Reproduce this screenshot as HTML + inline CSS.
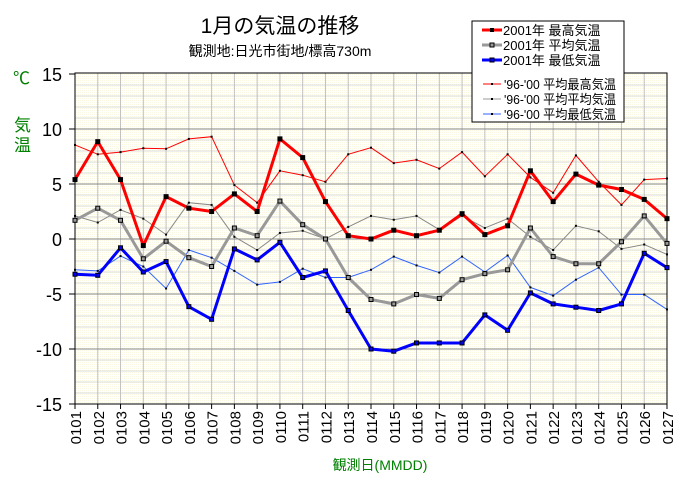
<!DOCTYPE html>
<html><head><meta charset="utf-8"><style>
body{margin:0;background:#fff}
svg text{font-family:"Liberation Sans","Noto Sans CJK JP",sans-serif}
</style></head><body>
<svg width="691" height="481" viewBox="0 0 691 481" xmlns="http://www.w3.org/2000/svg">
<defs>
<pattern id="dots" width="2" height="2" patternUnits="userSpaceOnUse"><rect width="2" height="2" fill="#fffffc"/><rect width="1" height="1" fill="#faf8e2"/></pattern>
</defs>
<rect x="75" y="73" width="592" height="331" fill="url(#dots)"/>
<g id="grid"></g>
<rect x="75" y="73" width="592" height="331" fill="none" stroke="#000" stroke-width="1"/>
<g id="axes"></g>
<g id="series"></g>
<text x="280" y="33" font-size="21" text-anchor="middle">1月の気温の推移</text>
<text x="280" y="56" font-size="14" text-anchor="middle" font-family="'Liberation Serif','Noto Serif CJK SC',serif">観測地:日光市街地/標高730m</text>
<text x="13" y="84" font-size="17" fill="#008000">℃</text>
<text x="14" y="131" font-size="17" fill="#008000">気</text>
<text x="14" y="151" font-size="17" fill="#008000">温</text>
<text x="380" y="470" font-size="14" text-anchor="middle" fill="#008000">観測日(MMDD)</text>
<g>
<rect x="472" y="21" width="152" height="101" fill="#fff" stroke="#000"/>
<line x1="482" y1="30" x2="502" y2="30" stroke="#f00" stroke-width="3"/><rect x="490" y="28" width="4" height="4" fill="#000"/>
<line x1="482" y1="45" x2="502" y2="45" stroke="#999" stroke-width="3"/><rect x="490" y="43" width="4" height="4" fill="#999" stroke="#000"/>
<line x1="482" y1="60" x2="502" y2="60" stroke="#00f" stroke-width="3"/><rect x="490" y="58" width="4" height="4" fill="#00f" stroke="#000"/>
<text x="503" y="35" font-size="13">2001年 最高気温</text>
<text x="503" y="50" font-size="13">2001年 平均気温</text>
<text x="503" y="65" font-size="13">2001年 最低気温</text>
<line x1="483" y1="84" x2="501" y2="84" stroke="#f00"/><rect x="491" y="83" width="2" height="2"/>
<line x1="483" y1="99" x2="501" y2="99" stroke="#999"/><rect x="491" y="98" width="2" height="2"/>
<line x1="483" y1="114" x2="501" y2="114" stroke="#36f"/><rect x="491" y="113" width="2" height="2"/>
<text x="504" y="89" font-size="13" textLength="112" lengthAdjust="spacingAndGlyphs">'96-'00 平均最高気温</text>
<text x="504" y="104" font-size="13" textLength="112" lengthAdjust="spacingAndGlyphs">'96-'00 平均平均気温</text>
<text x="504" y="119" font-size="13" textLength="112" lengthAdjust="spacingAndGlyphs">'96-'00 平均最低気温</text>
</g>
</svg>
<script>
const NS="http://www.w3.org/2000/svg";
function el(p,t,a){const e=document.createElementNS(NS,t);for(const k in a)e.setAttribute(k,a[k]);p.appendChild(e);return e;}
const X=i=>75+i*592/26, Y=v=>239-11*v;
const g=document.getElementById('grid'),ax=document.getElementById('axes'),s=document.getElementById('series');
for(let v=-15;v<=15;v++){if(v%5)el(g,'line',{x1:75,x2:667,y1:Y(v),y2:Y(v),stroke:'#dcdcdc'});}
for(let i=1;i<26;i++)el(g,'line',{x1:X(i),x2:X(i),y1:73,y2:404,stroke:'#c0c0c0'});
for(let v=-10;v<=10;v+=5)el(g,'line',{x1:75,x2:667,y1:Y(v),y2:Y(v),stroke:'#888'});
for(let v=-15;v<=15;v+=5){el(ax,'line',{x1:69,x2:75,y1:Y(v),y2:Y(v),stroke:'#000'});
 const t=el(ax,'text',{x:62,y:Y(v)+7,'font-size':18,'text-anchor':'end'});t.textContent=v;}
for(let i=0;i<27;i++){el(ax,'line',{x1:X(i),x2:X(i),y1:404,y2:409,stroke:'#000'});
 const t=el(ax,'text',{x:0,y:0,'font-size':15,'text-anchor':'end',transform:`translate(${X(i)+6},411) rotate(-90)`});t.textContent='01'+String(i+1).padStart(2,'0');}
const mx=[5.4,8.85,5.4,-0.6,3.85,2.8,2.5,4.1,2.5,9.1,7.4,3.4,0.3,0.0,0.8,0.3,0.8,2.3,0.4,1.2,6.2,3.4,5.9,4.9,4.5,3.6,1.85];
const av=[1.7,2.8,1.7,-1.8,-0.2,-1.7,-2.5,1.0,0.3,3.45,1.3,0,-3.5,-5.5,-5.9,-5.05,-5.4,-3.7,-3.15,-2.8,1.0,-1.6,-2.25,-2.25,-0.25,2.1,-0.4];
const mn=[-3.2,-3.3,-0.8,-3.0,-2.05,-6.15,-7.3,-0.9,-1.9,-0.3,-3.5,-2.9,-6.5,-10.0,-10.2,-9.45,-9.45,-9.45,-6.9,-8.3,-4.9,-5.9,-6.2,-6.5,-5.9,-1.3,-2.6];
const amx=[8.55,7.7,7.9,8.25,8.2,9.1,9.3,4.9,3.3,6.2,5.8,5.2,7.7,8.3,6.9,7.2,6.4,7.9,5.7,7.7,5.6,4.2,7.6,5.2,3.1,5.4,5.5];
const aav=[2.1,1.5,2.65,1.85,0.4,3.3,3.1,0.2,-1.0,0.55,0.75,0,1.1,2.1,1.75,2.1,0.85,2.1,1.0,1.85,0.2,-1.0,1.2,0.7,-0.9,-0.5,-1.4];
const amn=[-2.8,-2.9,-1.55,-2.5,-4.5,-1.0,-1.7,-2.9,-4.15,-3.9,-2.7,-3.5,-3.5,-2.8,-1.6,-2.4,-3.05,-1.6,-3.0,-1.5,-4.4,-5.15,-3.7,-2.6,-5.05,-5.05,-6.4];
function thin(d,c){el(s,'polyline',{points:d.map((v,i)=>X(i)+','+Y(v)).join(' '),fill:'none',stroke:c,'stroke-width':1});
 d.forEach((v,i)=>el(s,'rect',{x:X(i)-1,y:Y(v)-1,width:2,height:2,fill:'#000'}));}
function thick(d,c,f){el(s,'polyline',{points:d.map((v,i)=>X(i)+','+Y(v)).join(' '),fill:'none',stroke:c,'stroke-width':3,'stroke-linejoin':'round'});
 d.forEach((v,i)=>el(s,'rect',{x:X(i)-2,y:Y(v)-2,width:4,height:4,fill:f,stroke:'#000','stroke-width':1}));}
thin(amx,'#f00');thin(aav,'#888');thin(amn,'#36f');
thick(av,'#999','#999');thick(mn,'#00f','#00f');thick(mx,'#f00','#000');
</script>
</body></html>
